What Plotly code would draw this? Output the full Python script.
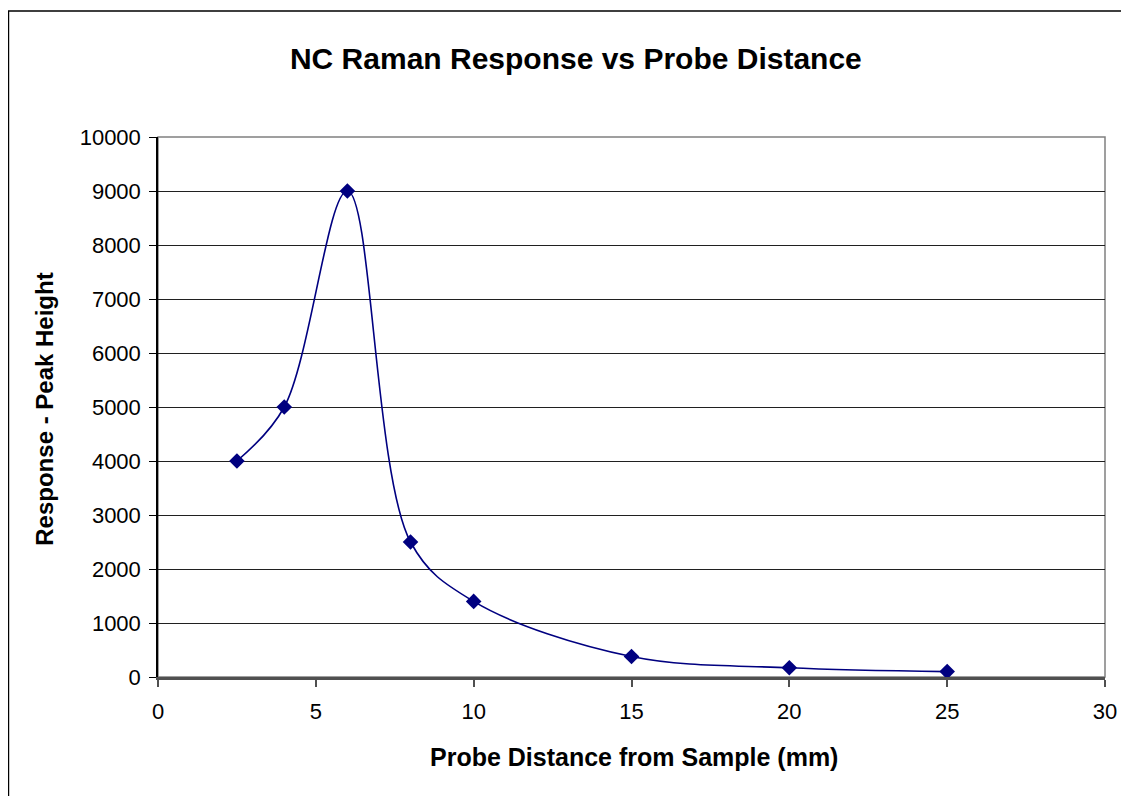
import plotly.graph_objects as go

# Probe distance (mm) and Raman peak height
distance = [2.5, 4, 6, 8, 10, 15, 20, 25]
peak_height = [4000, 5000, 9000, 2500, 1400, 380, 170, 100]

x_ticks = [0, 5, 10, 15, 20, 25, 30]
y_ticks = list(range(0, 10001, 1000))

navy = '#000080'

fig = go.Figure()

fig.add_trace(
    go.Scatter(
        x = distance,
        y = peak_height,
        mode = 'lines+markers',
        line = dict(color = navy, width = 1.6, shape = 'spline', smoothing = 1),
        marker = dict(symbol = 'diamond', size = 12, color = navy),
        showlegend = False
    )
)

# plot area border (gray, top/right) and outer chart border
fig.add_shape(type = 'rect', xref = 'paper', yref = 'paper',
              x0 = 0, x1 = 1, y0 = 0, y1 = 1,
              line = dict(color = '#808080', width = 1.5), layer = 'below')
fig.add_shape(type = 'rect', xref = 'paper', yref = 'paper',
              x0 = -0.1579, x1 = 1.04, y0 = -0.25, y1 = 1.2335,
              line = dict(color = 'black', width = 1.5))

# axis titles placed as annotations
fig.add_annotation(text = '<b>Response - Peak Height</b>', xref = 'paper', yref = 'paper',
                   x = -0.1193, y = 0.495, xanchor = 'center', yanchor = 'middle',
                   textangle = -90, showarrow = False,
                   font = dict(size = 24))
fig.add_annotation(text = '<b>Probe Distance from Sample (mm)</b>', xref = 'paper', yref = 'paper',
                   x = 0.503, y = -0.148, xanchor = 'center', yanchor = 'middle',
                   showarrow = False,
                   font = dict(size = 25))

fig.update_layout(
    width = 1129, height = 796,
    margin = dict(l = 150, r = 32, t = 129, b = 127),
    paper_bgcolor = 'white', plot_bgcolor = 'white',
    font = dict(family = 'Arial, Liberation Sans, sans-serif', color = 'black', size = 22),
    title = dict(text = '<b>NC Raman Response vs Probe Distance</b>',
                 x = 0.503, xanchor = 'center', y = 0.937, yanchor = 'middle',
                 font = dict(size = 30))
)

fig.update_xaxes(
    range = [0, 30], tickvals = x_ticks,
    showgrid = False, zeroline = False,
    showline = True, linecolor = '#505050', linewidth = 2.5,
    ticks = 'outside', ticklen = 7, tickcolor = '#505050', tickwidth = 1.5,
    ticklabelstandoff = 6
)
fig.update_yaxes(
    range = [0, 10000], tickvals = y_ticks, tickformat = 'd',
    showgrid = True, gridcolor = '#202020', gridwidth = 1,
    zeroline = False,
    showline = True, linecolor = 'black', linewidth = 1.5,
    ticks = 'outside', ticklen = 7, tickcolor = 'black',
    ticklabelstandoff = 4
)

fig.write_html("out.html")
